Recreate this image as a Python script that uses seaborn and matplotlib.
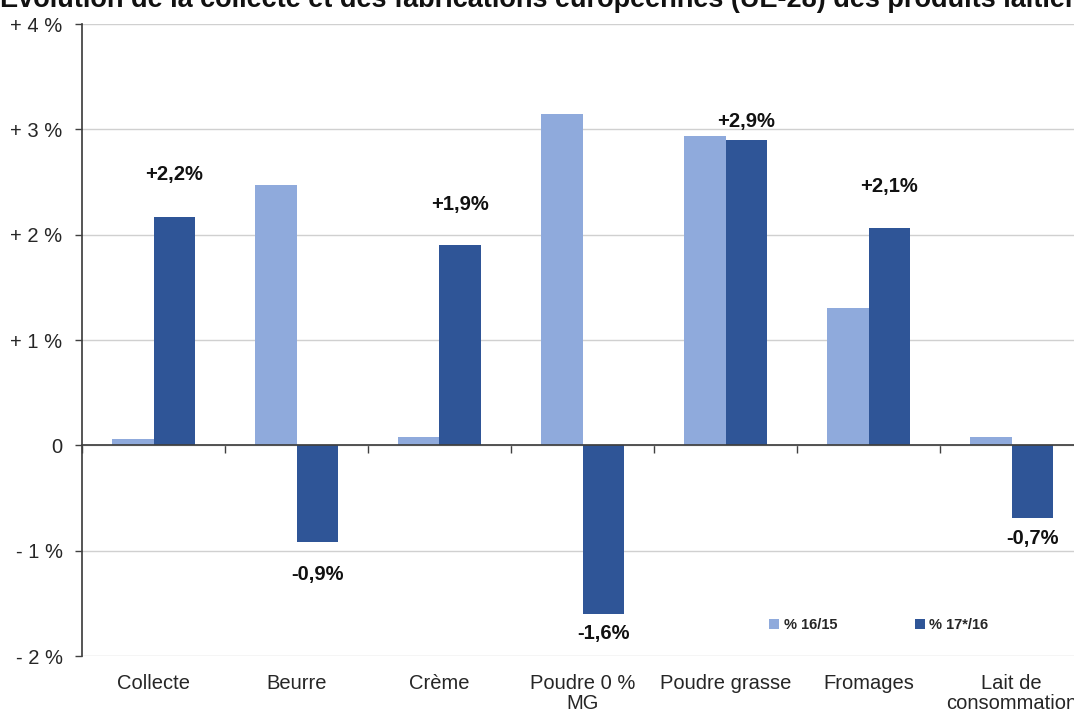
import matplotlib
matplotlib.use("Agg")
import matplotlib.pyplot as plt
import seaborn as sns
import pandas as pd
import numpy as np

categories = ["Collecte", "Beurre", "Crème", "Poudre 0 %\nMG", "Poudre grasse", "Fromages", "Lait de\nconsommation"]
series_names = ["% 16/15", "% 17*/16"]
values_16_15 = [0.06, 2.47, 0.08, 3.15, 2.94, 1.30, 0.08]
values_17_16 = [2.17, -0.92, 1.90, -1.60, 2.90, 2.06, -0.69]
labels_17_16 = ["+2,2%", "-0,9%", "+1,9%", "-1,6%", "+2,9%", "+2,1%", "-0,7%"]
ytick_values = [-2, -1, 0, 1, 2, 3, 4]
ytick_labels = ["- 2 %", "- 1 %", "0", "+ 1 %", "+ 2 %", "+ 3 %", "+ 4 %"]
title = "Evolution de la collecte et des fabrications européennes (UE-28) des produits laitiers"

df = pd.DataFrame({
    "cat": categories * 2,
    "serie": [series_names[0]] * len(categories) + [series_names[1]] * len(categories),
    "val": values_16_15 + values_17_16,
})

sns.set_theme(style="white")
plt.rcParams["font.family"] = ["Liberation Sans", "DejaVu Sans"]

fig = plt.figure(figsize=(10.74, 7.13), dpi=100)
ax = fig.add_axes([82 / 1074, 1 - 656 / 713, 1001 / 1074, 632 / 713])

sns.barplot(data=df, x="cat", y="val", hue="serie", order=categories,
            hue_order=series_names, palette=["#8FAADC", "#2F5597"],
            width=0.575, gap=0, ax=ax, legend=True, linewidth=0, saturation=1)

ax.set_ylim(-2, 4)
ax.set_xlim(-0.5, len(categories) - 0.5)
ax.set_yticks(ytick_values)
ax.set_yticklabels(ytick_labels, fontsize=14.5)
ax.yaxis.grid(True, color="#D0D0D0", linewidth=1)
ax.set_axisbelow(True)
ax.set_xlabel("")
ax.set_ylabel("")
ax.tick_params(axis="y", left=True, length=5, color="#404040", width=1, pad=9)

for s in ["top", "right"]:
    ax.spines[s].set_visible(False)
ax.spines["left"].set_color("#404040")
ax.spines["bottom"].set_position(("data", 0))
ax.spines["bottom"].set_color("#404040")

# boundary ticks on the zero line
ax.set_xticks(np.arange(len(categories) + 1) - 0.5)
ax.set_xticklabels([])
ax.tick_params(axis="x", bottom=True, length=6, color="#404040", width=1, direction="out")

# category labels at the bottom
sec = ax.secondary_xaxis(0)
sec.set_xticks(np.arange(len(categories)))
sec.set_xticklabels(categories, fontsize=14.5, linespacing=1.05)
sec.tick_params(length=0, pad=13)
sec.spines["bottom"].set_visible(False)

# value labels of dark series
offsets_px = [42, -32, 41, -20, 18, 42, -20]
bars = ax.containers[1]
for bar, lab, off in zip(bars, labels_17_16, offsets_px):
    x = bar.get_x() + bar.get_width() / 2
    y = bar.get_height()
    ax.annotate(lab, (x, y), xytext=(0, off * 0.72), textcoords="offset points",
                ha="center", va="center", fontsize=14.5, fontweight="bold", color="#111111",
                annotation_clip=False)

leg = ax.legend(loc="center", bbox_to_anchor=(0.796, 0.049), ncol=2, frameon=False,
                handlelength=0.7, handleheight=0.7, handletextpad=0.3, columnspacing=5.3,
                prop={"weight": "bold", "size": 10.5})

fig.text(0.0, 1 - 7 / 713, title, ha="left", va="baseline", fontsize=19.5,
         fontweight="bold", color="#111111")

fig.savefig("out.png", dpi=100)
